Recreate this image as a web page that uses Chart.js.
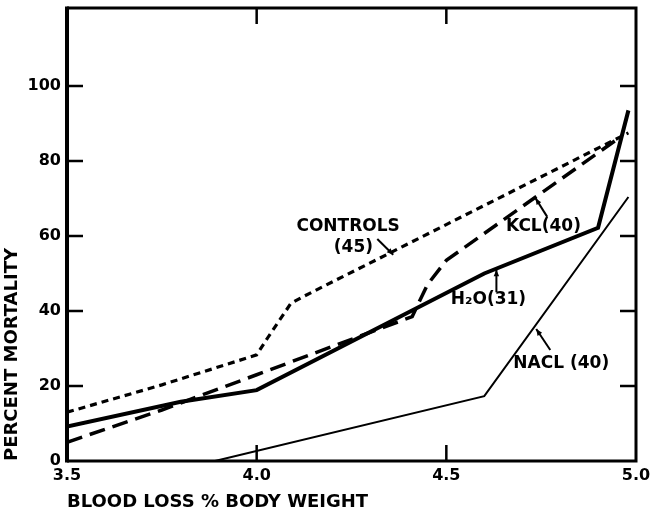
<!DOCTYPE html>
<html>
<head>
<meta charset="utf-8">
<script src="https://cdn.jsdelivr.net/npm/chart.js@4"></script>
<style>
  html, body { margin: 0; padding: 0; background: #fff; }
  #wrap { width: 658px; height: 513px; }
</style>
</head>
<body>
<div id="wrap"><canvas id="mortalityChart" width="658" height="513"></canvas></div>
<script>
// Data (x = blood loss % body weight, y = percent mortality)
const controlsX = [3.5, 3.75, 4.0, 4.03, 4.09, 4.12, 4.98];
const controlsY = [13, 20.3, 28.3, 33, 42, 43.7, 87.5];
const kclX = [3.5, 3.75, 4.0, 4.41, 4.45, 4.5, 4.96];
const kclY = [5, 13.6, 23, 38.5, 47, 53.5, 86.5];
const h2oX = [3.5, 3.8, 4.0, 4.6, 4.9, 4.98];
const h2oY = [9.2, 15.8, 18.9, 50, 62.2, 93.5];
const naclX = [3.89, 4.6, 4.98];
const naclY = [0, 17.3, 70.4];

const xTicks = [3.5, 4.0, 4.5, 5.0];
const yTicks = [0, 20, 40, 60, 80, 100];

// Curve labels and their arrows, in data units
const labelText = ['CONTROLS', '(45)', 'KCL(40)', 'H\u2082O(31)', 'NACL (40)'];
const labelX = [4.241, 4.255, 4.756, 4.611, 4.803];
const labelY = [62.4, 57, 62.4, 43, 26];
const arrowFromX = [4.318, 4.766, 4.632, 4.774];
const arrowFromY = [59.2, 65.1, 45, 29.6];
const arrowToX = [4.36, 4.735, 4.632, 4.737];
const arrowToY = [55, 70.1, 51, 35.2];

const FONT = 'DejaVu Sans';

function pts(xs, ys) {
    return xs.map((x, i) => ({ x: x, y: ys[i] }));
}

// frame, inward tick marks, curve labels and arrows
const decorations = {
    id: 'decorations',
    afterDraw(chart) {
        const c = chart.ctx;
        const a = chart.chartArea;
        const xs = chart.scales.x;
        const ys = chart.scales.y;
        c.save();
        c.strokeStyle = '#000';
        c.lineCap = 'butt';

        // frame
        c.lineWidth = 3;
        c.beginPath();
        c.moveTo(a.left, a.top);
        c.lineTo(a.right, a.top);
        c.lineTo(a.right, a.bottom);
        c.lineTo(a.left, a.bottom);
        c.stroke();
        c.lineWidth = 4;
        c.beginPath();
        c.moveTo(a.left, a.top - 1.5);
        c.lineTo(a.left, a.bottom + 1.5);
        c.stroke();

        // inward ticks
        c.lineWidth = 2.5;
        c.beginPath();
        xTicks.forEach(v => {
            if (v <= xs.min || v >= xs.max) return;
            const px = xs.getPixelForValue(v);
            c.moveTo(px, a.bottom); c.lineTo(px, a.bottom - 16);
            c.moveTo(px, a.top); c.lineTo(px, a.top + 16);
        });
        yTicks.forEach(v => {
            if (v <= ys.min || v >= ys.max) return;
            const py = ys.getPixelForValue(v);
            c.moveTo(a.left, py); c.lineTo(a.left + 16, py);
            c.moveTo(a.right, py); c.lineTo(a.right - 16, py);
        });
        c.stroke();

        // labels
        c.fillStyle = '#000';
        c.font = 'bold 17px "' + FONT + '"';
        c.textAlign = 'center';
        c.textBaseline = 'middle';
        labelText.forEach((t, i) => {
            c.fillText(t, xs.getPixelForValue(labelX[i]), ys.getPixelForValue(labelY[i]));
        });

        // arrows
        c.lineWidth = 2;
        arrowFromX.forEach((fx, i) => {
            const x0 = xs.getPixelForValue(fx), y0 = ys.getPixelForValue(arrowFromY[i]);
            const x1 = xs.getPixelForValue(arrowToX[i]), y1 = ys.getPixelForValue(arrowToY[i]);
            const ang = Math.atan2(y1 - y0, x1 - x0);
            c.beginPath();
            c.moveTo(x0, y0);
            c.lineTo(x1, y1);
            c.stroke();
            c.beginPath();
            c.moveTo(x1, y1);
            c.lineTo(x1 - 7 * Math.cos(ang - 0.4), y1 - 7 * Math.sin(ang - 0.4));
            c.lineTo(x1 - 7 * Math.cos(ang + 0.4), y1 - 7 * Math.sin(ang + 0.4));
            c.closePath();
            c.fill();
        });
        c.restore();
    }
};

const ctx = document.getElementById('mortalityChart').getContext('2d');

const chart = new Chart(ctx, {
    type: 'line',
    data: {
        datasets: [
            {
                label: 'CONTROLS (45)',
                data: pts(controlsX, controlsY),
                borderColor: '#000',
                borderWidth: 3.2,
                borderDash: [7, 5],
            },
            {
                label: 'KCL (40)',
                data: pts(kclX, kclY),
                borderColor: '#000',
                borderWidth: 3.5,
                borderDash: [16, 8],
            },
            {
                label: 'H2O (31)',
                data: pts(h2oX, h2oY),
                borderColor: '#000',
                borderWidth: 4,
            },
            {
                label: 'NACL (40)',
                data: pts(naclX, naclY),
                borderColor: '#000',
                borderWidth: 2,
            },
        ],
    },
    options: {
        responsive: false,
        animation: false,
        layout: { padding: { top: 8, right: 22, left: 0, bottom: 0 } },
        elements: {
            point: { radius: 0 },
            line: { tension: 0, fill: false },
        },
        plugins: {
            legend: { display: false },
            tooltip: { enabled: false },
        },
        scales: {
            x: {
                type: 'linear',
                min: 3.5,
                max: 5.0,
                afterBuildTicks: s => { s.ticks = xTicks.map(v => ({ value: v })); },
                afterFit: s => { s.height = 52; s.paddingRight = 0; },
                grid: { display: false, drawTicks: false },
                border: { display: false },
                ticks: {
                    color: '#000',
                    padding: 5,
                    font: { family: FONT, weight: 'bold', size: 16 },
                    callback: v => v.toFixed(1),
                },
                title: {
                    display: true,
                    text: 'BLOOD LOSS % BODY WEIGHT',
                    align: 'start',
                    color: '#000',
                    font: { family: FONT, weight: 'bold', size: 18 },
                    padding: { top: 0, bottom: 0 },
                },
            },
            y: {
                min: 0,
                max: 120.8,
                afterBuildTicks: s => { s.ticks = yTicks.map(v => ({ value: v })); },
                afterFit: s => { s.width = 67; s.paddingTop = 0; },
                grid: { display: false, drawTicks: false },
                border: { display: false },
                ticks: {
                    color: '#000',
                    padding: 6,
                    font: { family: FONT, weight: 'bold', size: 16 },
                },
                title: {
                    display: true,
                    text: 'PERCENT MORTALITY',
                    align: 'start',
                    color: '#000',
                    font: { family: FONT, weight: 'bold', size: 18 },
                    padding: { top: 2, bottom: 0 },
                },
            },
        },
    },
    plugins: [decorations],
});
</script>
</body>
</html>
